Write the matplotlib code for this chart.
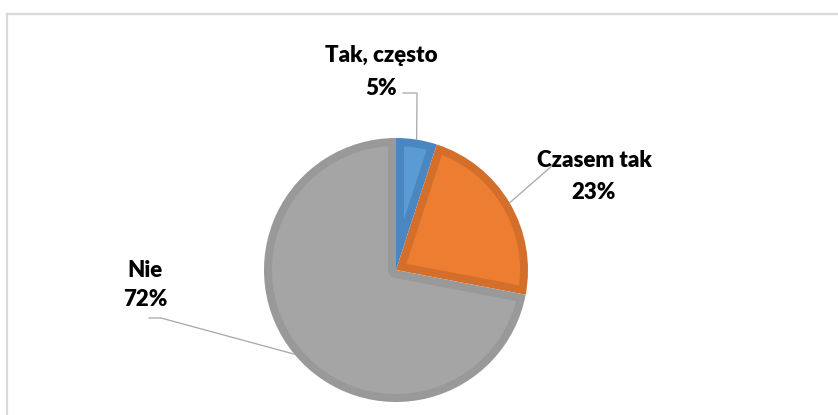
import numpy as np
import matplotlib.pyplot as plt
from matplotlib.lines import Line2D
from matplotlib.patches import Polygon

labels = ["Tak, często", "Czasem tak", "Nie"]
shares = [5, 23, 72]
fills = ["#5B9BD5", "#ED7D31", "#A5A5A5"]
edges = ["#4A86C0", "#D46F2B", "#999999"]

W, H = 838, 415
cx, cy, r = 396, H - 270, 132
border = 8  # inner border width of each slice, px

# label centre x, baseline of name, baseline of percent (pixels from top)
label_pos = [(381, 62, 95), (594, 167, 199), (145, 277, 306)]
elbows = [((403, 93), (417, 93)), ((543, 165), (553, 165)), ((149, 318), (161, 318))]


def d(a):
    a = np.deg2rad(a)
    return np.array([np.cos(a), np.sin(a)])


def inset(t1, t2, R, t):
    # slice t1..t2 shrunk by t on every side
    Ri = R - t
    da = np.rad2deg(np.arcsin(t / Ri))
    arc = np.linspace(t1 + da, t2 - da, 120)
    outer = [Ri * d(a) for a in arc]
    phi = t2 - t1
    if phi < 180:
        apex = d(t1 + phi / 2) * t / np.sin(np.deg2rad(phi / 2))
        pts = [apex] + outer
    else:
        inner = [t * d(a) for a in np.linspace(t2 - 90, t1 + 90, 40)]
        pts = outer + inner
    return np.array(pts) + [cx, cy]


def main():
    fig = plt.figure(figsize=(W / 100, H / 100), dpi=100)
    ax = fig.add_axes([0, 0, 1, 1])

    # chart border (only top and left visible)
    ax.add_line(Line2D([7, 7], [0, H - 14], color="#D9D9D9", lw=1.6))
    ax.add_line(Line2D([7, W], [H - 14, H - 14], color="#D9D9D9", lw=1.6))

    # darker slices first, lighter inset on top -> inner border
    wedges, _ = ax.pie(shares, colors=edges, startangle=90, counterclock=False,
                       center=(cx, cy), radius=r, frame=True,
                       wedgeprops=dict(linewidth=0))
    for w, fc in zip(wedges, fills):
        ax.add_patch(Polygon(inset(w.theta1, w.theta2, r, border), closed=True,
                             facecolor=fc, edgecolor="none"))

    ax.set_xlim(0, W)
    ax.set_ylim(0, H)
    ax.set_aspect("equal")
    ax.axis("off")

    for w, lab, val, (lx, b1, b2), (p0, p1) in zip(wedges, labels, shares, label_pos, elbows):
        mid = np.deg2rad((w.theta1 + w.theta2) / 2)
        ex = cx + r * np.cos(mid)
        ey = cy + r * np.sin(mid)
        ax.add_line(Line2D([p0[0], p1[0], ex], [H - p0[1], H - p1[1], ey],
                           color="#A6A6A6", lw=0.9))
        ax.text(lx, H - b1, lab, ha="center", va="baseline", fontsize=16,
                fontweight="heavy", family="Lato", color="#000000")
        ax.text(lx, H - b2, f"{val}%", ha="center", va="baseline", fontsize=16,
                fontweight="heavy", family="Lato", color="#000000")

    fig.savefig("out.png", dpi=100)


main()
